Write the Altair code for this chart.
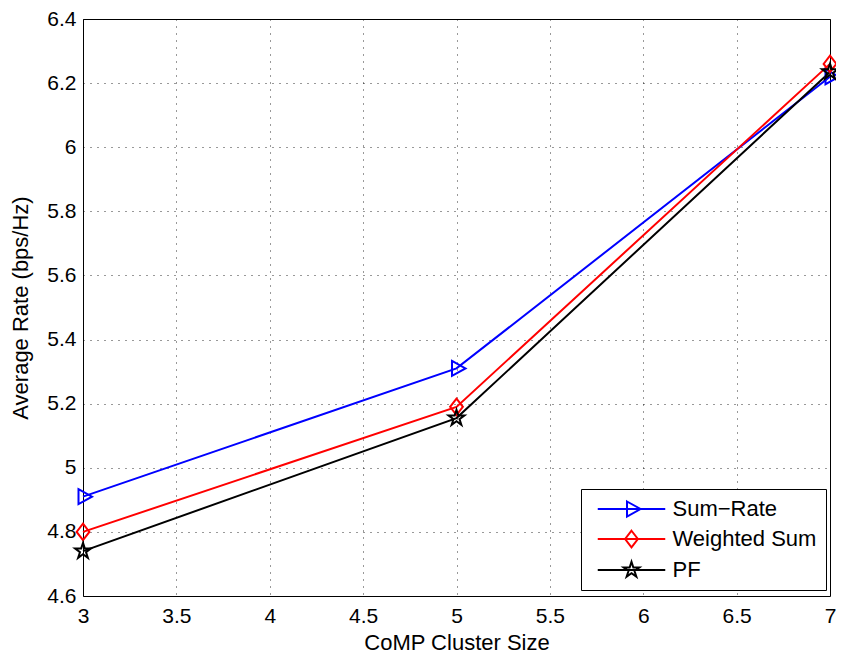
import altair as alt
import pandas as pd

# ---- data ----
cluster_size = [3, 5, 7]
series_names = ["Sum\u2212Rate", "Weighted Sum", "PF"]
sum_rate = [4.91, 5.31, 6.22]
weighted_sum = [4.80, 5.19, 6.26]
pf = [4.74, 5.155, 6.235]
x_ticks = [3, 3.5, 4, 4.5, 5, 5.5, 6, 6.5, 7]
y_ticks = [4.6, 4.8, 5.0, 5.2, 5.4, 5.6, 5.8, 6.0, 6.2, 6.4]

colors = ["#0000ff", "#ff0000", "#000000"]

tri = "M-0.6,-1L1.2,0L-0.6,1Z"
dia = "M0,-1.1L0.85,0L0,1.1L-0.85,0Z"
star = ("M0,-1.1L0.247,-0.34L1.046,-0.34L0.40,0.13L0.647,0.89L0,0.42"
        "L-0.647,0.89L-0.40,0.13L-1.046,-0.34L-0.247,-0.34Z")
marker_paths = [tri, dia, star]
line_seg = "M-4.5,0L4.5,0"
legend_paths = [line_seg + p for p in marker_paths]

rows = []
for name, vals in zip(series_names, [sum_rate, weighted_sum, pf]):
    for xv, yv in zip(cluster_size, vals):
        rows.append({"x": xv, "y": yv, "series": name})
df = pd.DataFrame(rows)

FONT = "Liberation Sans"

x_enc = alt.X("x:Q", scale=alt.Scale(domain=[3, 7], nice=False, zero=False),
              axis=alt.Axis(values=x_ticks, format=".1~f", title="CoMP Cluster Size",
                            labelPadding=9, titlePadding=6, labelFlush=False))
y_enc = alt.Y("y:Q", scale=alt.Scale(domain=[4.6, 6.4], nice=False, zero=False),
              axis=alt.Axis(values=y_ticks, format=".1~f", title="Average Rate (bps/Hz)",
                            labelPadding=7, titlePadding=14, labelFlush=False))

series_layers = []
for name, path, col in zip(series_names, marker_paths, colors):
    base = alt.Chart(df).transform_filter(alt.datum.series == name)
    series_layers.append(
        base.mark_line(strokeWidth=2, color=col).encode(x=x_enc, y=y_enc)
    )
for name, path, col in zip(series_names, marker_paths, colors):
    base = alt.Chart(df).transform_filter(alt.datum.series == name)
    series_layers.append(
        base.mark_point(filled=False, strokeWidth=2, size=225, opacity=1,
                        shape=path, color=col).encode(x=x_enc, y=y_enc)
    )

leg = alt.Legend(
    orient="none", legendX=498, legendY=470, title=None,
    fillColor="white", strokeColor="black", padding=9,
    symbolSize=225, symbolStrokeWidth=2, symbolOffset=30.5, symbolOpacity=1,
    labelOffset=30, labelFontSize=22, labelFont=FONT, labelColor="black",
    rowPadding=5, labelLimit=400,
)

legend_layer = alt.Chart(df).transform_filter("false").mark_point(
    filled=False, strokeWidth=2, opacity=1
).encode(
    color=alt.Color("series:N", scale=alt.Scale(domain=series_names, range=colors), legend=leg),
    shape=alt.Shape("series:N", scale=alt.Scale(domain=series_names, range=legend_paths), legend=leg),
)

chart = alt.layer(*series_layers, legend_layer).properties(
    width=747, height=577,
    padding={"left": 75, "top": 11, "right": 6, "bottom": 58},
    autosize=alt.AutoSizeParams(type="none"),
    background="white",
).configure_view(
    stroke="black", strokeWidth=1
).configure_axis(
    grid=True, gridColor="#000000", gridDash=[1, 6], gridOpacity=0.8, gridWidth=1,
    ticks=False, domain=False,
    labelFont=FONT, labelFontSize=21, labelColor="black",
    titleFont=FONT, titleFontSize=22, titleColor="black", titleFontWeight="normal",
)

chart.save("out.html", embed_options={"renderer": "svg", "actions": False})
